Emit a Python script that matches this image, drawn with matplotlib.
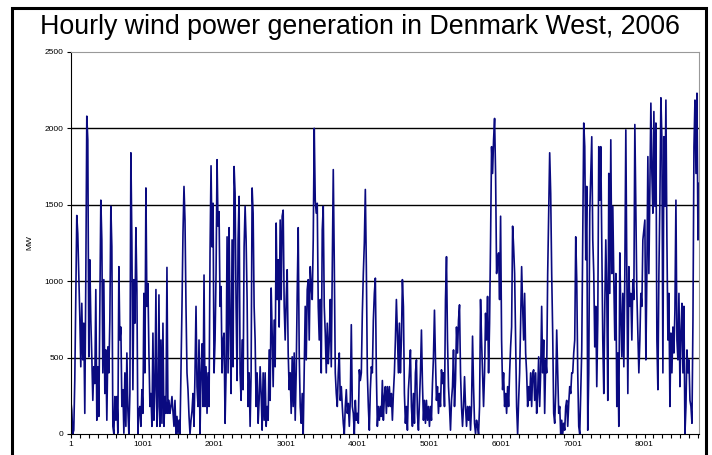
import numpy as np
import matplotlib
matplotlib.use('Agg')
import matplotlib.pyplot as plt
from matplotlib.patches import Rectangle

plt.rcParams['font.family'] = ['Liberation Sans', 'DejaVu Sans']

# hourly wind power (MW) at roughly one value per ~14 h
mw_q1 = [220, 157, 0, 25, 350, 880, 1430, 1310, 1050, 770,
         440, 855, 485, 725, 135, 1010, 2080, 1925, 505, 1140,
         745, 505, 220, 440, 330, 945, 90, 440, 115, 855,
         1530, 1270, 400, 1010, 265, 550, 90, 570, 400, 745,
         1490, 1225, 50, 0, 245, 90, 245, 5, 1095, 615,
         700, 180, 290, 5, 400, 50, 530, 155, 0, 265,
         1840, 1250, 290, 1010, 725, 1350, 945, 0, 155, 180,
         50, 290, 135, 920, 400, 1610, 835, 985, 530, 180,
         265, 50, 660, 90, 290, 945, 50, 180, 910, 50,
         615, 70, 725, 50, 245, 135, 1090, 135, 220, 135,
         180, 245, 150, 50, 220, 0, 115, 0, 90, 0,
         400, 835, 1315, 1620, 1400, 835, 400, 290, 120, 0,
         90, 150, 265, 50, 400, 835, 310, 180, 615, 0,
         400, 590, 180, 1040, 180, 440, 135, 400, 180, 1185,
         1755, 1225, 1510, 400, 615, 1050, 1795, 1360, 1455, 835,
         965, 400, 615, 660, 70, 400, 1290, 400]

mw_q2 = [1350, 725, 265, 1270, 440, 1750, 1575, 835, 350, 1270,
         1555, 400, 220, 615, 290, 1225, 1490, 1270, 880, 180,
         400, 50, 400, 1610, 1445, 835, 615, 180, 400, 70,
         220, 440, 265, 25, 400, 90, 400, 50, 180, 90,
         550, 220, 955, 660, 310, 745, 440, 1380, 880, 1140,
         700, 1400, 880, 1425, 1465, 835, 615, 880, 1075, 530,
         290, 400, 135, 505, 180, 530, 90, 400, 920, 1350,
         530, 180, 70, 265, 0, 400, 835, 485, 945, 1010,
         615, 1095, 965, 880, 1270, 2000, 1530, 1445, 1510, 835,
         615, 880, 400, 1335, 1490, 835, 660, 400, 725, 460,
         615, 880, 440, 1095, 1730, 1120, 400, 265, 180, 400,
         530, 220, 310, 180, 70, 0, 180, 290, 135, 200,
         50, 220, 715, 180, 135, 0, 220, 90, 135, 70,
         420, 350, 400, 790, 1050, 1250, 1600, 1095, 400, 180,
         25, 290, 440, 400, 745, 920, 1020, 400, 50, 180,
         90, 180, 115, 350, 90, 245, 310, 135, 310, 180]

mw_q3 = [310, 180, 265, 90, 265, 400, 615, 880, 660, 400,
         725, 400, 615, 1010, 835, 265, 70, 180, 25, 290,
         400, 550, 180, 50, 265, 70, 400, 485, 135, 25,
         220, 400, 680, 330, 90, 220, 70, 220, 90, 180,
         50, 180, 90, 330, 505, 810, 485, 220, 310, 135,
         265, 180, 420, 330, 400, 180, 880, 1160, 615, 310,
         180, 25, 220, 310, 550, 180, 350, 700, 530, 745,
         845, 400, 180, 50, 180, 375, 180, 50, 180, 90,
         180, 25, 180, 640, 310, 70, 0, 90, 50, 0,
         180, 880, 615, 400, 180, 400, 790, 615, 900, 400,
         725, 1270, 1880, 1705, 1925, 2065, 1705, 1050, 1140, 1185,
         880, 1425, 615, 290, 400, 180, 265, 135, 310, 180,
         400, 570, 700, 1360, 1225, 1050, 615, 180, 0, 220,
         400, 725, 1095, 835, 615, 920, 530, 400, 180, 310,
         220, 400, 180, 400, 420, 220, 400, 135, 265, 505,
         180, 400, 835, 400, 615, 135, 485, 400, 1050]

mw_q4 = [1445, 1840, 1575, 1050, 660, 135, 70, 265, 680, 400,
         135, 180, 0, 90, 0, 70, 25, 180, 220, 50,
         200, 310, 265, 400, 400, 530, 615, 1290, 1010, 400,
         50, 0, 265, 550, 1270, 2035, 1880, 1140, 1620, 25,
         400, 1445, 1685, 1945, 1270, 1050, 570, 835, 310, 745,
         1880, 1530, 1880, 1270, 615, 265, 835, 1270, 920, 220,
         1705, 920, 1925, 1050, 1490, 1010, 615, 1050, 180, 530,
         50, 1185, 790, 505, 920, 440, 1050, 1990, 1050, 265,
         1095, 835, 920, 615, 1010, 880, 2025, 1490, 920, 660,
         400, 615, 920, 835, 1270, 1335, 1400, 485, 1050, 1815,
         1050, 1600, 2165, 1705, 1445, 2110, 1490, 2035, 615, 290,
         1050, 1530, 2200, 1925, 400, 1945, 1490, 2185, 1270, 615,
         920, 180, 660, 400, 700, 530, 810, 1530, 615, 485,
         920, 310, 660, 855, 400, 835, 0, 180, 550, 400,
         485, 220, 180, 70, 745, 1880, 2185, 1705, 2230, 1270,
         1640]

mw = np.array(mw_q1 + mw_q2 + mw_q3 + mw_q4, dtype=float)
hours = 1 + np.arange(len(mw)) * 8759 / (len(mw) - 1)

x_labels = [1, 1001, 2001, 3001, 4001, 5001, 6001, 7001, 8001]
y_ticks = [0, 500, 1000, 1500, 2000, 2500]

fig = plt.figure(figsize=(7.12, 4.55), dpi=100)
ax = fig.add_axes([0.0994, 0.0462, 0.8823, 0.8396])

ax.plot(hours, mw, color='#0a0a80', lw=1.2)

ax.set_xlim(1, 8760)
ax.set_ylim(0, 2500)
ax.set_yticks(y_ticks)
ax.set_xticks(x_labels)
ax.set_xticks(np.arange(1, 8760, 125), minor=True)
ax.tick_params(axis='both', labelsize=6, length=3, width=0.8, direction='out', pad=2)
ax.tick_params(axis='x', which='minor', length=3, width=0.8)

for y in y_ticks[1:-1]:
    ax.axhline(y, color='black', lw=1, zorder=0)

ax.spines['top'].set_color('#999999')
ax.spines['right'].set_color('#999999')
ax.spines['left'].set_color('black')
ax.spines['bottom'].set_color('black')

ax.set_ylabel('MW', fontsize=6, labelpad=8)

fig.text(0.505, 0.94, 'Hourly wind power generation in Denmark West, 2006',
         ha='center', va='center', fontsize=19.3)

# black frame round the slide
fig.patches.append(Rectangle((12 / 712, -0.05), 694 / 712, 1.05 - 8 / 455,
                             transform=fig.transFigure, fill=False,
                             edgecolor='black', lw=2.2))

fig.savefig('out.png', dpi=100)
